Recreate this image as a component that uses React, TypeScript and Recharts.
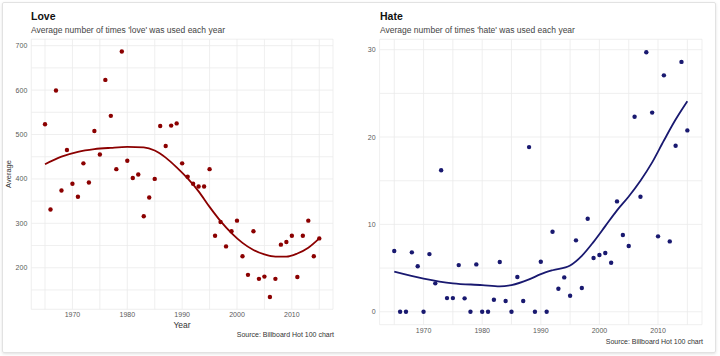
import { ComposedChart, Scatter, Line, XAxis, YAxis, CartesianGrid } from "recharts"

const YEARS = [
  1965, 1966, 1967, 1968, 1969, 1970, 1971, 1972, 1973, 1974, 1975, 1976, 1977,
  1978, 1979, 1980, 1981, 1982, 1983, 1984, 1985, 1986, 1987, 1988, 1989, 1990,
  1991, 1992, 1993, 1994, 1995, 1996, 1997, 1998, 1999, 2000, 2001, 2002, 2003,
  2004, 2005, 2006, 2007, 2008, 2009, 2010, 2011, 2012, 2013, 2014, 2015,
]

const LOVE = [
  523, 331, 599, 374, 465, 389, 360, 435, 392, 508, 455, 623, 542, 422, 687, 441,
  402, 410, 316, 358, 400, 519, 474, 520, 525, 435, 405, 389, 383, 383, 422, 272,
  303, 248, 282, 306, 226, 184, 282, 175, 180, 134, 175, 252, 258, 272, 179, 272,
  306, 226, 266,
]

const HATE = [
  6.95, 0, 0, 6.8, 5.2, 0, 6.6, 3.25, 16.2, 1.56, 1.56, 5.34, 1.53, 0, 5.42, 0,
  0, 1.37, 5.69, 1.22, 0, 3.97, 1.22, 18.85, 0, 5.73, 0, 9.16, 2.63, 3.93, 1.83,
  8.17, 2.71, 10.65, 6.15, 6.49, 6.72, 5.61, 12.63, 8.78, 7.52, 22.33, 13.17,
  29.7, 22.8, 8.63, 27.06, 8.05, 19.0, 28.6, 20.76,
]

// smoothed trend
const LOVE_TREND_YEARS = [1965, 1968, 1971, 1974, 1977, 1980, 1983, 1985, 1987, 1989, 1991, 1993, 1995, 1997, 1999, 2001, 2003, 2005, 2007, 2009, 2011, 2013, 2015]
const LOVE_TREND = [433, 450, 461, 467, 470, 472, 471, 464, 448, 426, 401, 372, 337, 305, 278, 256, 240, 230, 225, 225, 232, 245, 266]

const HATE_TREND_YEARS = [1965, 1970, 1975, 1980, 1983, 1985, 1988, 1990, 1992, 1995, 1997, 1999, 2001, 2003, 2005, 2007, 2009, 2011, 2013, 2015]
const HATE_TREND = [4.6, 3.8, 3.25, 3.05, 2.9, 3.05, 3.7, 4.3, 4.75, 5.3, 6.4, 8.0, 9.8, 11.6, 13.2, 15.0, 17.1, 19.6, 22.0, 24.1]

const X_TICKS = [1965, 1970, 1975, 1980, 1985, 1990, 1995, 2000, 2005, 2010, 2015]
const LOVE_TICKS = [150, 200, 250, 300, 350, 400, 450, 500, 550, 600, 650, 700]
const HATE_TICKS = [0, 5, 10, 15, 20, 25, 30]

const FONT = "'Liberation Sans', Arial, sans-serif"
const tickStyle = { fontSize: 7, fill: "#5a5a5a", fontFamily: FONT }

const zip = (xs: number[], ys: number[]) => xs.map((x, i) => ({ year: x, value: ys[i] }))

function Dot(props: any) {
  const { cx, cy, fill } = props
  if (cx == null || cy == null) return null
  return <circle cx={cx} cy={cy} r={2.2} fill={fill} />
}

interface PanelProps {
  points: { year: number; value: number }[]
  trend: { year: number; value: number }[]
  color: string
  yDomain: [number, number]
  yTicks: number[]
  yMajor: number
  margin: { top: number; right: number; bottom: number; left: number }
  yWidth: number
  xMargin: number
}

function Panel({ points, trend, color, yDomain, yTicks, yMajor, margin, yWidth, xMargin }: PanelProps) {
  return (
    <ComposedChart width={360} height={356} margin={margin}>
      <CartesianGrid stroke="#ebebeb" strokeWidth={0.8} />
      <XAxis
        dataKey="year"
        type="number"
        domain={[1962.5, 2017.5]}
        ticks={X_TICKS}
        tickFormatter={(v: number) => (v % 10 === 0 ? String(v) : "")}
        tick={tickStyle}
        tickLine={false}
        axisLine={false}
        tickSize={0}
        tickMargin={xMargin}
        height={12}
        allowDataOverflow
        interval={0}
      />
      <YAxis
        dataKey="value"
        type="number"
        domain={yDomain}
        ticks={yTicks}
        tickFormatter={(v: number) => (v % yMajor === 0 ? String(v) : "")}
        tick={tickStyle}
        tickLine={false}
        axisLine={false}
        tickSize={0}
        tickMargin={4}
        width={yWidth}
        allowDataOverflow
        interval={0}
      />
      <Scatter data={points} dataKey="value" fill={color} shape={Dot} isAnimationActive={false} />
      <Line
        data={trend}
        dataKey="value"
        type="monotone"
        stroke={color}
        strokeWidth={1.8}
        dot={false}
        activeDot={false}
        isAnimationActive={false}
      />
    </ComposedChart>
  )
}

const abs = (left: number, top: number, extra: any = {}) => ({
  position: "absolute" as const,
  left,
  top,
  fontFamily: FONT,
  whiteSpace: "nowrap" as const,
  ...extra,
})

export default function App() {
  return (
    <div style={{ position: "fixed", left: 0, top: 0, width: 720, height: 356, background: "#fff", overflow: "hidden" }}>
      <div
        style={{
          position: "absolute",
          left: 2,
          top: 2,
          width: 712,
          height: 349,
          border: "1px solid #e2e2e2",
          boxShadow: "0 1px 3px rgba(0,0,0,0.12)",
          borderRadius: 2,
        }}
      />
      <div style={{ position: "absolute", left: 0, top: 0 }}>
        <Panel
          points={zip(YEARS, LOVE)}
          trend={zip(LOVE_TREND_YEARS, LOVE_TREND)}
          color="#8b0000"
          yDomain={[106.4, 714.6]}
          yTicks={LOVE_TICKS}
          yMajor={100}
          margin={{ top: 39.2, right: 27, left: 8, bottom: 356 - 309.3 - 12 }}
          yWidth={23.3}
          xMargin={3}
        />
      </div>
      <div style={{ position: "absolute", left: 360, top: 0 }}>
        <Panel
          points={zip(YEARS, HATE)}
          trend={zip(HATE_TREND_YEARS, HATE_TREND)}
          color="#191970"
          yDomain={[-1.485, 31.19]}
          yTicks={HATE_TICKS}
          yMajor={10}
          margin={{ top: 39.3, right: 18, left: 0, bottom: 356 - 324.7 - 12 }}
          yWidth={19.6}
          xMargin={3.5}
        />
      </div>

      <div style={abs(31, 10, { fontSize: 10.5, fontWeight: 700, color: "#111" })}>Love</div>
      <div style={abs(31, 25, { fontSize: 8.5, color: "#444" })}>Average number of times 'love' was used each year</div>
      <div style={abs(380, 10, { fontSize: 10.5, fontWeight: 700, color: "#111" })}>Hate</div>
      <div style={abs(380, 25, { fontSize: 8.5, color: "#444" })}>Average number of times 'hate' was used each year</div>

      <div style={abs(182, 320, { fontSize: 8.5, color: "#333", transform: "translateX(-50%)" })}>Year</div>
      <div
        style={abs(8, 174, {
          fontSize: 7.5,
          color: "#333",
          transform: "translate(-50%, -50%) rotate(-90deg)",
        })}
      >
        Average
      </div>

      <div style={abs(0, 331, { width: 334, textAlign: "right", fontSize: 7, color: "#333" })}>
        Source: Billboard Hot 100 chart
      </div>
      <div style={abs(0, 338, { width: 703, textAlign: "right", fontSize: 7, color: "#333" })}>
        Source: Billboard Hot 100 chart
      </div>
    </div>
  )
}
